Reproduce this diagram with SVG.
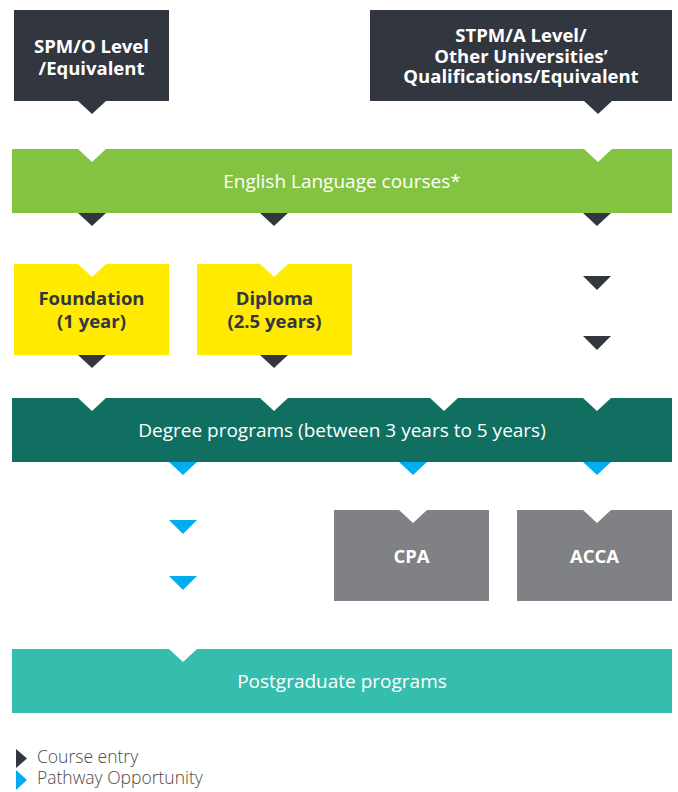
<svg xmlns="http://www.w3.org/2000/svg" width="678" height="792" viewBox="0 0 678 792">
<defs>
<style>
.dark{fill:#32363f}
.green{fill:#84c341}
.yellow{fill:#ffea00}
.teal{fill:#106f61}
.grey{fill:#808184}
.pg{fill:#35bdad}
.notch{fill:#ffffff}
.entry{fill:#32363f}
.path{fill:#00aeef}
text{font-family:"Open Sans","Noto Sans","Liberation Sans",sans-serif;text-anchor:middle}
.tb{font-weight:700;font-size:18.5px;fill:#ffffff}
.tbd{font-weight:700;font-size:18.5px;fill:#32363f}
.tr{font-weight:400;font-size:19px;fill:#ffffff}
.leg{font-weight:300;font-size:17.5px;fill:#4a4a4a;text-anchor:start}
</style>
</defs>
<rect width="678" height="792" fill="#ffffff"/>

<g id="spm">
<rect class="dark" x="14" y="10" width="155" height="91"/>
<text class="tb" x="91.5" y="52.5">SPM/O Level</text>
<text class="tb" x="91.5" y="74.5">/Equivalent</text>
</g>

<g id="stpm">
<rect class="dark" x="370" y="10" width="302" height="91"/>
<text class="tb" x="521" y="42">STPM/A Level/</text>
<text class="tb" x="521" y="62.5">Other Universities’</text>
<text class="tb" x="521" y="83">Qualifications/Equivalent</text>
</g>

<g id="english">
<rect class="green" x="12" y="149" width="660" height="64"/>
<polygon class="notch" points="78,149 106,149 92,162"/>
<polygon class="notch" points="584,149 612,149 598,162"/>
<text class="tr" x="342" y="187.5">English Language courses*</text>
</g>

<g id="foundation">
<rect class="yellow" x="14" y="264" width="155" height="91"/>
<polygon class="notch" points="78,264 106,264 92,277"/>
<text class="tbd" x="91.5" y="305">Foundation</text>
<text class="tbd" x="91.5" y="327.5">(1 year)</text>
</g>

<g id="diploma">
<rect class="yellow" x="197" y="264" width="155" height="91"/>
<polygon class="notch" points="260,264 288,264 274,277"/>
<text class="tbd" x="274.5" y="305">Diploma</text>
<text class="tbd" x="274.5" y="327.5">(2.5 years)</text>
</g>

<g id="degree">
<rect class="teal" x="12" y="398" width="660" height="64"/>
<polygon class="notch" points="78,398 106,398 92,411"/>
<polygon class="notch" points="260,398 288,398 274,411"/>
<polygon class="notch" points="430,398 458,398 444,411"/>
<polygon class="notch" points="583,398 611,398 597,411"/>
<text class="tr" x="342" y="437">Degree programs (between 3 years to 5 years)</text>
</g>

<g id="cpa">
<rect class="grey" x="334" y="510" width="155" height="91"/>
<polygon class="notch" points="399,510 427,510 413,523"/>
<text class="tb" x="411.5" y="563">CPA</text>
</g>

<g id="acca">
<rect class="grey" x="517" y="510" width="155" height="91"/>
<polygon class="notch" points="583,510 611,510 597,523"/>
<text class="tb" x="594.5" y="563">ACCA</text>
</g>

<g id="postgraduate">
<rect class="pg" x="12" y="649" width="660" height="64"/>
<polygon class="notch" points="169,649 197,649 183,662"/>
<text class="tr" x="342" y="688">Postgraduate programs</text>
</g>

<g id="connectors">
<polygon class="entry" points="78,101 106,101 92,114"/>
<polygon class="entry" points="584,101 612,101 598,114"/>
<polygon class="entry" points="78,213 106,213 92,226"/>
<polygon class="entry" points="260,213 288,213 274,226"/>
<polygon class="entry" points="583,213 611,213 597,226"/>
<polygon class="entry" points="583,276 611,276 597,290"/>
<polygon class="entry" points="583,336 611,336 597,350"/>
<polygon class="entry" points="78,355 106,355 92,368"/>
<polygon class="entry" points="260,355 288,355 274,368"/>
<polygon class="path" points="169,462 197,462 183,475"/>
<polygon class="path" points="399,462 427,462 413,475"/>
<polygon class="path" points="583,462 611,462 597,475"/>
<polygon class="path" points="169,520 197,520 183,534"/>
<polygon class="path" points="169,576 197,576 183,590"/>
</g>

<g id="legend">
<polygon class="entry" points="16,749 27,758.5 16,768"/>
<polygon class="path" points="16,770 27,780 16,790"/>
<text class="leg" x="37" y="762.5">Course entry</text>
<text class="leg" x="37" y="784">Pathway Opportunity</text>
</g>
</svg>
